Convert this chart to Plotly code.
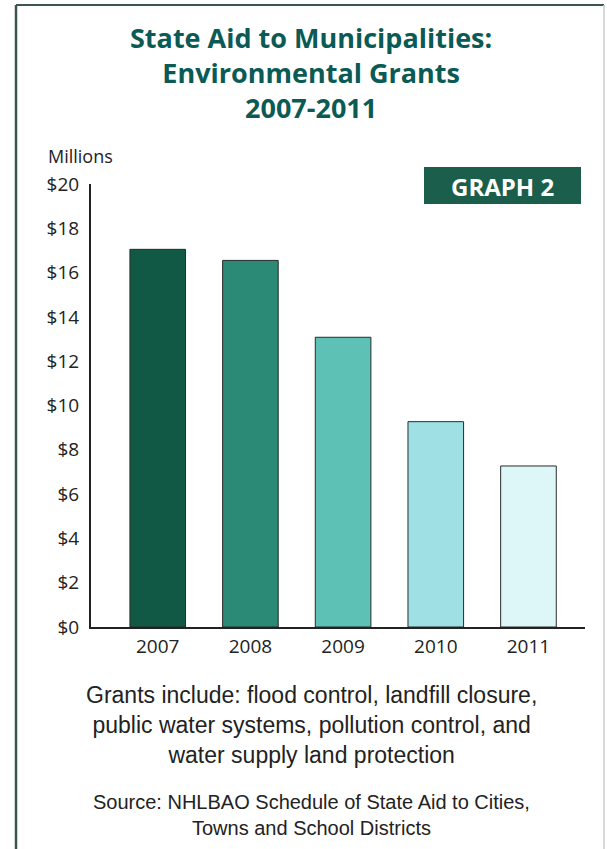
import plotly.graph_objects as go

years = ["2007", "2008", "2009", "2010", "2011"]
grants_millions = [17.05, 16.55, 13.08, 9.27, 7.27]
bar_colors = ["#115945", "#2b8a76", "#5ec1b6", "#9fe0e5", "#ddf7f8"]
y_tick_vals = [0, 2, 4, 6, 8, 10, 12, 14, 16, 18, 20]
y_tick_text = ["$" + str(v) for v in y_tick_vals]

title_lines = ["State Aid to Municipalities:", "Environmental Grants", "2007-2011"]
note_lines = ["Grants include: flood control, landfill closure,",
              "public water systems, pollution control, and",
              "water supply land protection"]
source_lines = ["Source: NHLBAO Schedule of State Aid to Cities,",
                "Towns and School Districts"]

W, H = 607, 849
L, R, T, B = 91, 585, 184, 627


def px(x):
    return (x - L) / (R - L)


def py(y):
    return (B - y) / (B - T)


fig = go.Figure(go.Bar(
    x=years, y=grants_millions, width=0.6,
    marker=dict(color=bar_colors, line=dict(color="#2a2a2a", width=1)),
))

fig.update_layout(
    width=W, height=H,
    margin=dict(l=L, r=W - R, t=T, b=H - B),
    paper_bgcolor="white", plot_bgcolor="white",
    showlegend=False,
    xaxis=dict(type="category", range=[-0.72, 4.61], showgrid=False,
               showline=True, linecolor="#222", linewidth=2, ticks="",
               tickfont=dict(family="Open Sans", size=19, color="#222"),
               ticklabelstandoff=1),
    yaxis=dict(range=[0, 20], tickvals=y_tick_vals, ticktext=y_tick_text,
               showgrid=False, zeroline=False, showline=True,
               linecolor="#222", linewidth=2, ticks="",
               tickfont=dict(family="Open Sans", size=19, color="#222"),
               ticklabelstandoff=6),
)

annotations = []
annotations.append(dict(text="<br>".join("<b>" + t + "</b>" for t in title_lines),
                        x=px(311), y=py(73), xref="paper", yref="paper", showarrow=False,
                        xanchor="center", yanchor="middle", align="center",
                        font=dict(family="Open Sans", size=27, color="#0b5a55")))
annotations.append(dict(text="Millions", x=px(46), y=py(156), xref="paper", yref="paper",
                        showarrow=False, xanchor="left", yanchor="middle",
                        font=dict(family="Open Sans", size=18, color="#222")))
annotations.append(dict(text="<b>GRAPH 2</b>", x=px(502), y=py(186), xref="paper", yref="paper",
                        showarrow=False, xanchor="center", yanchor="middle",
                        font=dict(family="Open Sans", size=24, color="white")))
annotations.append(dict(text="<br>".join(note_lines), x=px(311), y=py(725),
                        xref="paper", yref="paper", showarrow=False,
                        xanchor="center", yanchor="middle", align="center",
                        font=dict(family="Liberation Sans", size=23, color="#222")))
annotations.append(dict(text="<br>".join(source_lines), x=px(311), y=py(815),
                        xref="paper", yref="paper", showarrow=False,
                        xanchor="center", yanchor="middle", align="center",
                        font=dict(family="Liberation Sans", size=20, color="#222")))
fig.update_layout(annotations=annotations)

shapes = [
    dict(type="rect", xref="paper", yref="paper", x0=px(424), x1=px(581), y0=py(204), y1=py(167),
         fillcolor="#1b5e4b", line=dict(width=0), layer="above"),
    dict(type="line", xref="paper", yref="paper", x0=px(16), x1=px(16), y0=py(5), y1=py(849),
         line=dict(color="#3d5550", width=2.5)),
    dict(type="line", xref="paper", yref="paper", x0=px(16), x1=px(604), y0=py(5), y1=py(5),
         line=dict(color="#3d5550", width=2)),
    dict(type="line", xref="paper", yref="paper", x0=px(604), x1=px(604), y0=py(5), y1=py(849),
         line=dict(color="#c8cccc", width=1.5)),
]
fig.update_layout(shapes=shapes)

fig.write_html("out.html")
